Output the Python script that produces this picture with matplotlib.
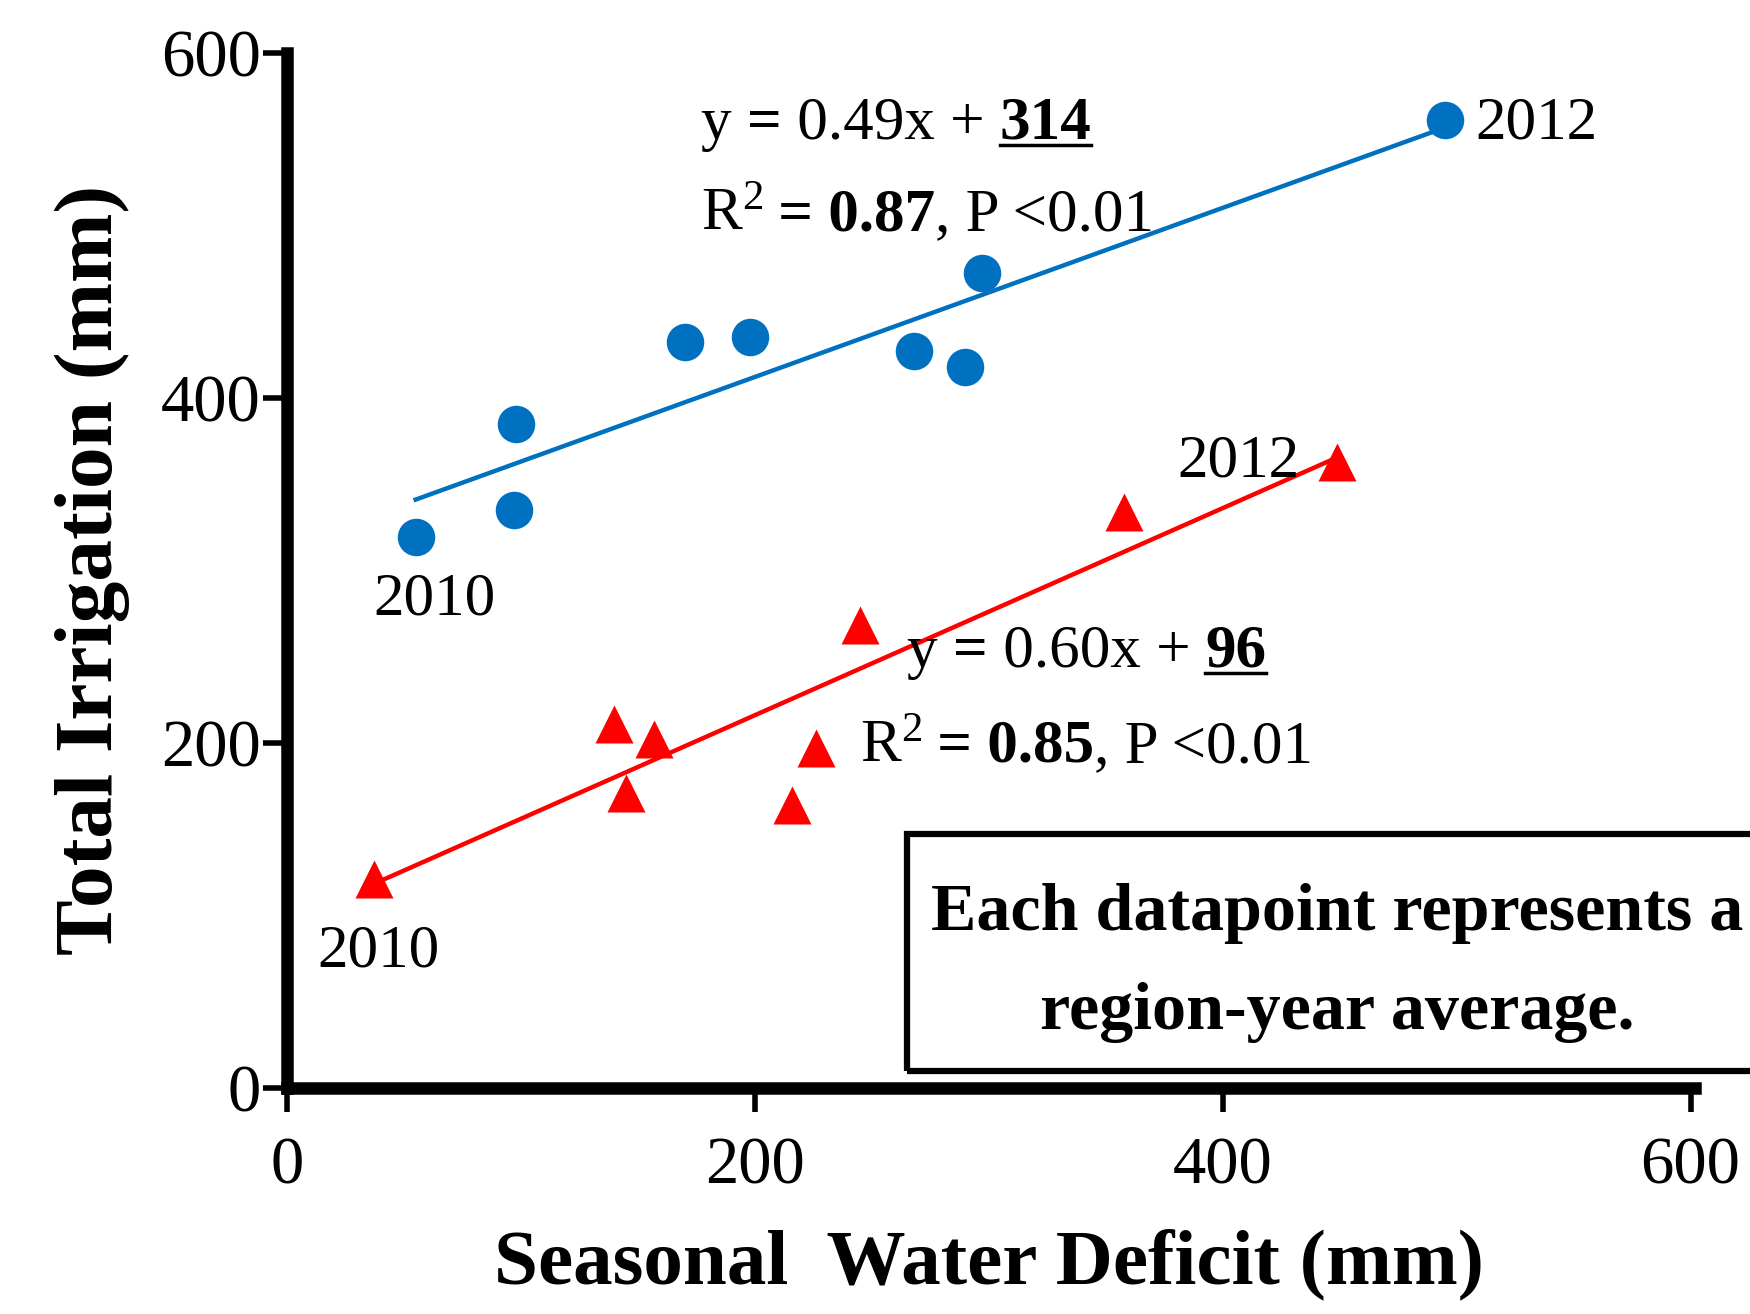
import numpy as np
import matplotlib.pyplot as plt
from matplotlib.patches import Rectangle

plt.rcParams['font.family'] = ['Liberation Serif', 'DejaVu Serif']
plt.rcParams['mathtext.fontset'] = 'custom'
plt.rcParams['mathtext.rm'] = 'Liberation Serif'
plt.rcParams['mathtext.it'] = 'Liberation Serif:italic'
plt.rcParams['mathtext.bf'] = 'Liberation Serif:bold'
plt.rcParams['mathtext.default'] = 'regular'

# region-year averages
blue_x = [55, 97, 98, 170, 198, 268, 290, 297, 495]
blue_y = [319, 335, 385, 432, 435, 427, 418, 472, 561]
red_x = [37, 140, 145, 157, 216, 226, 245, 358, 449]
red_y = [121, 211, 171, 202, 164, 197, 268, 334, 363]

blue_fit = (0.49, 314)
red_fit = (0.60, 96)

ticks = [0, 200, 400, 600]

blue_c = '#0070C0'
red_c = '#FF0000'

fig = plt.figure(figsize=(17.5, 13.14), dpi=100)
ax = fig.add_axes([0.164, 0.172, 0.802, 0.788])

ax.set_xlim(0, 600)
ax.set_ylim(0, 600)
ax.set_xticks(ticks)
ax.set_yticks(ticks)
ax.tick_params(labelsize=48, width=4, length=17)
ax.tick_params(axis='x', pad=18)
ax.tick_params(axis='y', pad=2)
for side in ['top', 'right']:
    ax.spines[side].set_visible(False)
for side in ['left', 'bottom']:
    ax.spines[side].set_linewidth(9)
ax.spines['bottom'].set_bounds(0, 602)

# fitted lines over each series' x range
bx = np.array([min(blue_x), max(blue_x)])
rx = np.array([min(red_x), max(red_x)])
ax.plot(bx, blue_fit[0] * bx + blue_fit[1], color=blue_c, lw=3.2, zorder=2)
ax.plot(rx, red_fit[0] * rx + red_fit[1], color=red_c, lw=3.2, zorder=2)

ax.plot(blue_x, blue_y, 'o', color=blue_c, ms=27, mec='none', zorder=3, clip_on=False)
ax.plot(red_x, red_y, '^', color=red_c, ms=28, mec='none', zorder=3, clip_on=False)

ax.text(63, 283, '2010', fontsize=44, ha='center', va='center')
ax.text(508, 559, '2012', fontsize=44, ha='left', va='center')
ax.text(39, 79, '2010', fontsize=44, ha='center', va='center')
ax.text(433, 363, '2012', fontsize=44, ha='right', va='center')

renderer = fig.canvas.get_renderer()


def rich_text(x, y, parts, fs=44):
    # put pieces one after another on a baseline, some bold / underlined
    px, py = ax.transData.transform((x, y))
    inv = ax.transData.inverted()
    for s, bold, uline in parts:
        dx, dy = inv.transform((px, py))
        t = ax.text(dx, dy, s, fontsize=fs, ha='left', va='baseline',
                    fontweight='bold' if bold else 'normal')
        bb = t.get_window_extent(renderer)
        if uline:
            (ux0, uy), (ux1, _) = inv.transform([(bb.x0, py - 6), (bb.x1, py - 6)])
            ax.plot([ux0, ux1], [uy, uy], color='black', lw=2.5, clip_on=False)
        px = bb.x1


rich_text(177, 550, [('y ', False, False), ('=', True, False),
                     (' 0.49x + ', False, False), ('314', True, True)])
rich_text(177, 497, [('R$^2$', False, False), (' = 0.87', True, False),
                     (', P <0.01', False, False)])
rich_text(265, 244, [('y ', False, False), ('=', True, False),
                     (' 0.60x + ', False, False), ('96', True, True)])
rich_text(245, 189, [('R$^2$', False, False), (' = 0.85', True, False),
                     (', P <0.01', False, False)])

box = Rectangle((265, 10), 420, 137, fill=False, lw=4.5, ec='black', clip_on=False)
ax.add_patch(box)
ax.text(449, 101, 'Each datapoint represents a', fontsize=49, fontweight='bold',
        ha='center', va='center')
ax.text(449, 44, 'region-year average.', fontsize=49, fontweight='bold',
        ha='center', va='center')

ax.set_xlabel('Seasonal  Water Deficit (mm)', fontsize=57, fontweight='bold', labelpad=22)
ax.set_ylabel('Total Irrigation (mm)', fontsize=60, fontweight='bold', labelpad=22)

fig.savefig('out.png', dpi=100)
